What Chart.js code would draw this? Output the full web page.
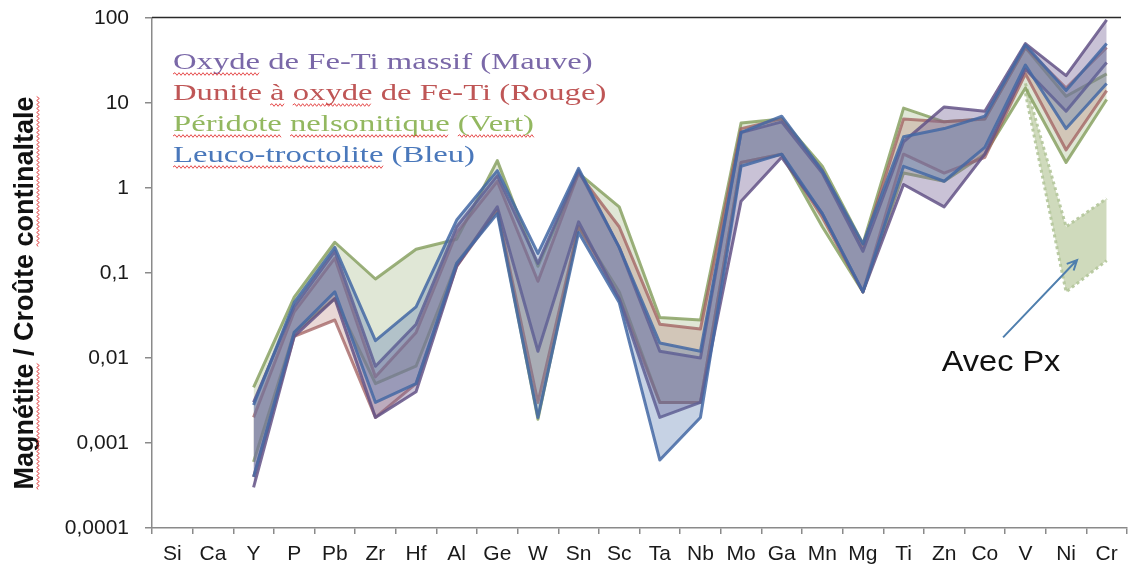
<!DOCTYPE html>
<html>
<head>
<meta charset="utf-8">
<script src="https://cdn.jsdelivr.net/npm/chart.js@4/dist/chart.umd.min.js"></script>
<style>
  html, body { margin: 0; padding: 0; background: #fff; }
  #wrap { width: 1128px; height: 571px; }
</style>
</head>
<body>
<div id="wrap"><canvas id="c" width="1128" height="571"></canvas></div>
<script>
// Elements on the x axis
const elements = ['Si','Ca','Y','P','Pb','Zr','Hf','Al','Ge','W','Sn','Sc','Ta','Nb','Mo','Ga','Mn','Mg','Ti','Zn','Co','V','Ni','Cr'];

// Log-axis decades and their French-formatted labels
const yTicks = [0.0001, 0.001, 0.01, 0.1, 1, 10, 100];
const yTickLabels = ['0,0001', '0,001', '0,01', '0,1', '1', '10', '100'];

// Envelope (max / min) of magnetite / continental crust ratios per rock type
const bleuMax  = [null,null,0.0028,0.045,0.20,0.016,0.040,0.42,1.6,0.17,1.7,0.20,0.015,0.012,4.5,7.0,1.6,0.22,4.0,5.0,7.0,48,14,50];
const bleuMin  = [null,null,0.0004,0.020,0.06,0.003,0.005,0.13,0.50,0.002,0.30,0.045,0.00063,0.002,1.8,2.5,0.50,0.06,1.8,1.2,3.0,28,5.0,17];
const mauveMax = [null,null,0.0030,0.040,0.18,0.008,0.025,0.35,1.4,0.13,1.6,0.20,0.012,0.010,4.5,6.0,1.5,0.18,3.5,9.0,8.0,50,21,95];
const mauveMin = [null,null,0.0003,0.018,0.05,0.002,0.004,0.12,0.60,0.012,0.40,0.050,0.002,0.003,0.7,2.3,0.50,0.06,1.1,0.6,2.5,25,8.0,30];
const rougeMax = [null,null,0.0020,0.035,0.15,0.006,0.020,0.30,1.2,0.08,1.5,0.35,0.025,0.022,5.0,6.5,1.6,0.20,6.5,6.0,6.5,45,15,45];
const rougeMin = [null,null,0.0004,0.018,0.028,0.002,0.005,0.12,0.55,0.003,0.35,0.050,0.003,0.003,2.0,2.5,0.45,0.06,2.5,1.5,2.3,22,2.8,14];
const vertMax  = [null,null,0.0045,0.052,0.23,0.085,0.19,0.25,2.1,0.12,1.5,0.60,0.030,0.028,5.8,6.5,1.8,0.22,8.7,6.0,6.5,45,12,22];
const vertMin  = [null,null,0.0006,0.020,0.05,0.005,0.008,0.13,0.55,0.0019,0.35,0.060,0.003,0.003,2.0,2.5,0.35,0.06,1.5,1.2,2.5,15,2.0,11];
// Green peridotite samples containing pyroxene
const pxMax    = [null,null,null,null,null,null,null,null,null,null,null,null,null,null,null,null,null,null,null,null,null,17,0.35,0.75];
const pxMin    = [null,null,null,null,null,null,null,null,null,null,null,null,null,null,null,null,null,null,null,null,null,13,0.06,0.14];

// Legend text lines (coloured text, words flagged by the spell checker)
const legendLines = [
  { text: 'Oxyde de Fe-Ti massif (Mauve)', color: '#7a68a8', flagged: ['Oxyde'] },
  { text: 'Dunite à oxyde de Fe-Ti (Rouge)', color: '#bf5656', flagged: ['à', 'oxyde'] },
  { text: 'Péridote nelsonitique (Vert)', color: '#93b860', flagged: ['Péridote', 'nelsonitique', '(Vert)'] },
  { text: 'Leuco-troctolite (Bleu)', color: '#4a78bb', flagged: ['Leuco-troctolite'] }
];
const yTitleParts = ['Magnétite', ' / Croûte ', 'continaltale'];
const noteText = 'Avec Px';
// annotation anchor in data space: [category index, value]
const noteTextAt = [20.4, 0.0088];
const noteArrowFrom = [20.45, 0.0175];
const noteArrowTo = [22.27, 0.142];

// Stacking order, top-most first (Chart.js paints the first dataset last)
const groups = [
  { name: 'Leuco-troctolite (Bleu)', max: bleuMax, min: bleuMin, line: 'rgba(68,104,165,0.85)', fill: 'rgba(88,122,175,0.34)' },
  { name: 'Oxyde de Fe-Ti massif (Mauve)', max: mauveMax, min: mauveMin, line: 'rgba(100,84,135,0.85)', fill: 'rgba(120,102,152,0.40)' },
  { name: 'Dunite à oxyde de Fe-Ti (Rouge)', max: rougeMax, min: rougeMin, line: 'rgba(160,95,95,0.75)', fill: 'rgba(175,110,105,0.27)' },
  { name: 'Péridote nelsonitique (Vert)', max: vertMax, min: vertMin, line: 'rgba(138,162,100,0.85)', fill: 'rgba(168,188,140,0.36)' },
  { name: 'Avec Px', max: pxMax, min: pxMin, line: 'rgba(182,200,158,0.95)', fill: 'rgba(204,216,184,0.95)', dash: [3, 3], width: 3 }
];

const datasets = [];
groups.forEach(g => {
  datasets.push({
    label: g.name + ' min', data: g.min, borderColor: g.line, borderWidth: g.width || 3,
    borderDash: g.dash || [], backgroundColor: 'rgba(0,0,0,0)', fill: false,
    pointRadius: 0, tension: 0
  });
  datasets.push({
    label: g.name, data: g.max, borderColor: g.line, borderWidth: g.width || 3,
    borderDash: g.dash || [], backgroundColor: g.fill, fill: '-1',
    pointRadius: 0, tension: 0
  });
});

function wavy(ctx, x0, x1, y, color) {
  ctx.save();
  ctx.strokeStyle = color;
  ctx.lineWidth = 1;
  ctx.beginPath();
  let up = true;
  ctx.moveTo(x0, y);
  for (let x = x0 + 2; x <= x1; x += 2) {
    ctx.lineTo(x, up ? y - 1.3 : y + 1.3);
    up = !up;
  }
  ctx.stroke();
  ctx.restore();
}

const decorations = {
  id: 'decorations',
  afterDraw(chart) {
    const ctx = chart.ctx;
    const area = chart.chartArea;
    const xs = chart.scales.x, ys = chart.scales.y;

    // frame line along the top of the plot
    ctx.save();
    ctx.strokeStyle = '#2a2a2a';
    ctx.lineWidth = 1.5;
    ctx.beginPath();
    ctx.moveTo(area.left, area.top - 0.5);
    ctx.lineTo(area.right - 6, area.top - 0.5);
    ctx.stroke();
    ctx.restore();

    // legend: serif coloured text, horizontally widened
    const sx = 1.42;
    ctx.save();
    ctx.font = '23px "Liberation Serif", "Times New Roman", serif';
    ctx.textBaseline = 'alphabetic';
    const lx = area.left + 21;
    legendLines.forEach((ln, i) => {
      const by = area.top + 51 + i * 31;
      ctx.save();
      ctx.translate(lx, by);
      ctx.scale(sx, 1);
      ctx.fillStyle = ln.color;
      ctx.fillText(ln.text, 0, 0);
      ctx.restore();
      ln.flagged.forEach(w => {
        const idx = ln.text.indexOf(w);
        const pre = ctx.measureText(ln.text.slice(0, idx)).width * sx;
        const ww = ctx.measureText(w).width * sx;
        wavy(ctx, lx + pre, lx + pre + ww, by + 5, 'rgba(225,45,45,0.85)');
      });
    });
    ctx.restore();

    // rotated axis title
    ctx.save();
    ctx.font = 'bold 27px "Liberation Sans", Arial, sans-serif';
    const full = yTitleParts.join('');
    const tw = ctx.measureText(full).width;
    ctx.translate(33, (area.top + area.bottom) / 2 + 20);
    ctx.rotate(-Math.PI / 2);
    ctx.fillStyle = '#111';
    ctx.textBaseline = 'alphabetic';
    let x = -tw / 2;
    yTitleParts.forEach((p, i) => {
      ctx.fillText(p, x, 0);
      const w = ctx.measureText(p).width;
      if (i !== 1) wavy(ctx, x, x + w, 5, 'rgba(225,45,45,0.85)');
      x += w;
    });
    ctx.restore();

    // "Avec Px" note with its arrow
    const px = p => [xs.getPixelForValue(p[0]), ys.getPixelForValue(p[1])];
    const a = px(noteArrowFrom), b = px(noteArrowTo);
    ctx.save();
    ctx.strokeStyle = '#4f7fae';
    ctx.lineWidth = 2;
    ctx.beginPath();
    ctx.moveTo(a[0], a[1]);
    ctx.lineTo(b[0], b[1]);
    const ang = Math.atan2(b[1] - a[1], b[0] - a[0]);
    const hl = 11;
    ctx.moveTo(b[0] - hl * Math.cos(ang - 0.45), b[1] - hl * Math.sin(ang - 0.45));
    ctx.lineTo(b[0], b[1]);
    ctx.lineTo(b[0] - hl * Math.cos(ang + 0.45), b[1] - hl * Math.sin(ang + 0.45));
    ctx.stroke();
    const t = px(noteTextAt);
    ctx.font = '29px "Liberation Sans", Arial, sans-serif';
    ctx.fillStyle = '#111';
    ctx.textAlign = 'center';
    ctx.textBaseline = 'middle';
    ctx.translate(t[0], t[1]);
    ctx.scale(1.12, 1);
    ctx.fillText(noteText, 0, 0);
    ctx.restore();
  }
};

const tickFont = { family: '"Liberation Sans", Arial, sans-serif', size: 21 };

new Chart(document.getElementById('c'), {
  type: 'line',
  data: { labels: elements, datasets },
  options: {
    responsive: false,
    animation: false,
    layout: { padding: { top: 18, right: 1, left: 0, bottom: 0 } },
    plugins: { legend: { display: false }, tooltip: { enabled: false } },
    elements: { line: { borderJoinStyle: 'round' } },
    scales: {
      x: {
        type: 'category',
        offset: true,
        grid: { display: true, drawOnChartArea: false, offset: true, tickLength: 6, color: '#8a8a8a', lineWidth: 1.5 },
        border: { display: true, color: '#8a8a8a', width: 1.5 },
        ticks: { font: tickFont, color: '#1a1a1a', padding: 8, maxRotation: 0, autoSkip: false },
        afterFit: s => { s.height = 43; s.paddingLeft = 0; s.paddingRight = 0; }
      },
      y: {
        type: 'logarithmic',
        min: 0.0001,
        max: 100,
        afterBuildTicks: s => { s.ticks = yTicks.map(v => ({ value: v })); },
        grid: { display: true, drawOnChartArea: false, tickLength: 7, color: '#8a8a8a', lineWidth: 1.5 },
        border: { display: true, color: '#8a8a8a', width: 1.5 },
        ticks: {
          font: tickFont, color: '#1a1a1a', padding: 16,
          callback: (v) => { const i = yTicks.findIndex(t => Math.abs(t - v) / t < 1e-6); return i >= 0 ? yTickLabels[i] : ''; }
        },
        afterFit: s => { s.width = 152; s.paddingTop = 0; s.paddingBottom = 0; }
      }
    }
  },
  plugins: [decorations]
});
</script>
</body>
</html>
